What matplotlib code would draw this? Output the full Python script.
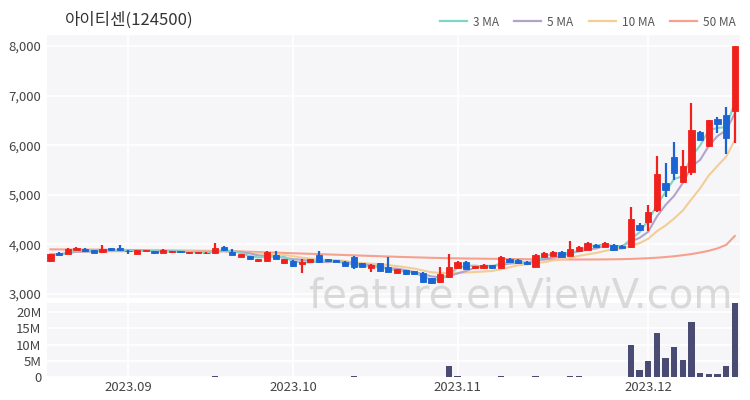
import numpy as np
import pandas as pd
import matplotlib
matplotlib.use("Agg")
import matplotlib.pyplot as plt
from matplotlib.lines import Line2D
from matplotlib.ticker import FuncFormatter

plt.rcParams['font.family'] = ['Noto Sans CJK KR', 'DejaVu Sans']

# trading days (Korean market holidays excluded)
holidays = ['2023-09-28', '2023-09-29', '2023-10-02', '2023-10-03', '2023-10-09']
dates = pd.bdate_range('2023-08-21', '2023-12-15', freq='C', holidays=holidays)

# OHLC
opens = [3665, 3830, 3810, 3895, 3910, 3880, 3840, 3920, 3920, 3870,
         3810, 3870, 3860, 3830, 3840, 3860, 3825, 3820, 3820, 3820,
         3950, 3840, 3750, 3760, 3660, 3660, 3780, 3620, 3670, 3610,
         3650, 3790, 3700, 3680, 3650, 3750, 3620, 3530, 3620, 3550,
         3430, 3480, 3460, 3430, 3320, 3250, 3340, 3530, 3650, 3520,
         3520, 3580, 3530, 3710, 3690, 3650, 3550, 3750, 3770, 3850,
         3770, 3870, 3890, 3990, 3950, 3990, 3970, 3950, 4390, 4450,
         4690, 5240, 5760, 5260, 5460, 6270, 5980, 6530, 6610, 6690]
highs = [3810, 3840, 3920, 3950, 3920, 3890, 3980, 3930, 3980, 3880,
         3890, 3890, 3870, 3910, 3870, 3870, 3850, 3845, 3840, 4030,
         3960, 3900, 3810, 3770, 3710, 3870, 3870, 3710, 3680, 3710,
         3710, 3870, 3710, 3690, 3660, 3760, 3630, 3600, 3630, 3750,
         3510, 3490, 3470, 3440, 3330, 3540, 3800, 3660, 3660, 3570,
         3600, 3590, 3760, 3720, 3700, 3660, 3800, 3840, 3860, 3860,
         4060, 3960, 4040, 4000, 4040, 4000, 3990, 4750, 4440, 4800,
         5780, 5640, 6060, 5900, 6850, 6280, 6510, 6570, 6770, 8000]
lows = [3640, 3780, 3800, 3880, 3850, 3820, 3830, 3860, 3870, 3810,
        3800, 3860, 3810, 3820, 3830, 3830, 3815, 3815, 3810, 3810,
        3870, 3780, 3740, 3680, 3650, 3650, 3700, 3610, 3550, 3430,
        3640, 3630, 3650, 3640, 3560, 3510, 3540, 3450, 3460, 3440,
        3420, 3390, 3390, 3230, 3210, 3230, 3330, 3520, 3500, 3510,
        3510, 3510, 3520, 3640, 3610, 3590, 3540, 3740, 3760, 3740,
        3760, 3860, 3880, 3940, 3940, 3870, 3920, 3920, 4270, 4270,
        4660, 4960, 5300, 5240, 5400, 6100, 5970, 6250, 5820, 6040]
closes = [3800, 3790, 3900, 3920, 3860, 3835, 3900, 3880, 3880, 3860,
          3880, 3885, 3820, 3880, 3860, 3840, 3840, 3840, 3830, 3930,
          3880, 3790, 3800, 3710, 3700, 3840, 3710, 3700, 3560, 3650,
          3700, 3640, 3660, 3650, 3570, 3550, 3550, 3590, 3470, 3450,
          3500, 3400, 3400, 3250, 3230, 3400, 3540, 3650, 3510, 3560,
          3590, 3520, 3750, 3650, 3620, 3600, 3790, 3830, 3850, 3750,
          3910, 3950, 4030, 3950, 4030, 3890, 3930, 4510, 4290, 4650,
          5420, 5100, 5440, 5580, 6300, 6100, 6510, 6430, 6150, 8000]
# volume in millions of shares
volume_m = [0.10, 0.08, 0.12, 0.07, 0.06, 0.05, 0.09, 0.06, 0.07, 0.05,
            0.06, 0.05, 0.05, 0.06, 0.04, 0.04, 0.04, 0.04, 0.05, 0.40,
            0.12, 0.08, 0.07, 0.07, 0.06, 0.10, 0.08, 0.07, 0.08, 0.12,
            0.06, 0.10, 0.06, 0.05, 0.08, 0.25, 0.08, 0.10, 0.09, 0.15,
            0.07, 0.08, 0.06, 0.12, 0.10, 0.15, 3.40, 0.40, 0.15, 0.08,
            0.08, 0.10, 0.20, 0.10, 0.08, 0.07, 0.18, 0.12, 0.10, 0.10,
            0.40, 0.18, 0.15, 0.10, 0.12, 0.10, 0.10, 10.0, 2.1, 4.8,
            13.5, 5.9, 9.3, 5.3, 17.1, 1.1, 1.0, 0.9, 3.3, 22.7]
# 50-day moving average
ma50 = [3900, 3899, 3898, 3897, 3896, 3895, 3894, 3892, 3890, 3888,
        3886, 3884, 3882, 3880, 3878, 3876, 3874, 3872, 3870, 3868,
        3866, 3862, 3858, 3852, 3846, 3840, 3834, 3828, 3822, 3816,
        3810, 3804, 3798, 3792, 3786, 3780, 3774, 3768, 3762, 3756,
        3750, 3745, 3740, 3735, 3730, 3726, 3722, 3719, 3716, 3714,
        3712, 3710, 3708, 3706, 3704, 3702, 3700, 3699, 3698, 3697,
        3696, 3696, 3696, 3697, 3698, 3700, 3703, 3708, 3714, 3722,
        3732, 3745, 3762, 3782, 3806, 3836, 3872, 3920, 3990, 4170]

df = pd.DataFrame({'open': opens, 'high': highs, 'low': lows,
                   'close': closes, 'vol': np.array(volume_m) * 1e6}, index=dates)
df['ma3'] = df['close'].rolling(3, min_periods=1).mean()
df['ma5'] = df['close'].rolling(5, min_periods=1).mean()
df['ma10'] = df['close'].rolling(10, min_periods=1).mean()
df['ma50'] = ma50

up_col = '#f0201c'
down_col = '#1a64d4'
ma_cols = {'3 MA': '#80d6c6', '5 MA': '#b4a3c9', '10 MA': '#f4cc96', '50 MA': '#f6a08e'}
bg = '#f6f6f8'

x = np.arange(len(df))
W, H = 750, 400
fig = plt.figure(figsize=(7.5, 4), dpi=100)
ax = fig.add_axes([47 / W, 1 - 298 / H, 693 / W, 263 / H])
axv = fig.add_axes([47 / W, 1 - 377 / H, 693 / W, 74 / H], sharex=ax)

# month start positions for ticks
month_pos = [i for i in range(1, len(df)) if df.index[i].month != df.index[i - 1].month]
month_lab = [df.index[i].strftime('%Y.%m') for i in month_pos]

for a in (ax, axv):
    a.set_facecolor(bg)
    for s in a.spines.values():
        s.set_visible(False)
    a.grid(True, color='white', lw=1.2)
    a.set_axisbelow(True)
    a.tick_params(length=0, labelsize=9.5, colors='#444444')

# moving averages
ax.plot(x, df['ma50'], color=ma_cols['50 MA'], lw=1.5, zorder=2)
ax.plot(x, df['ma10'], color=ma_cols['10 MA'], lw=1.5, zorder=2)
ax.plot(x, df['ma5'], color=ma_cols['5 MA'], lw=1.5, zorder=2)
ax.plot(x, df['ma3'], color=ma_cols['3 MA'], lw=1.5, zorder=2)

# candles
colors = [up_col if c >= o else down_col for o, c in zip(df['open'], df['close'])]
ax.vlines(x, df['low'], df['high'], colors=colors, lw=1.6, zorder=3)
bottoms = np.minimum(df['open'], df['close'])
heights = np.maximum(np.abs(df['close'] - df['open']), 12)
ax.bar(x, heights, bottom=bottoms, width=0.72, color=colors, edgecolor=colors,
       lw=0.6, zorder=4)

ax.set_ylim(2920, 8220)
ax.set_yticks([3000, 4000, 5000, 6000, 7000, 8000])
ax.yaxis.set_major_formatter(FuncFormatter(lambda v, p: f'{int(v):,}'))
ax.set_xlim(-0.4, len(df) - 0.4)
ax.set_xticks(month_pos)
ax.tick_params(axis='x', labelbottom=False)
ax.tick_params(axis='y', pad=4)

# volume
axv.bar(x, df['vol'], width=0.72, color='#4a4b72', zorder=3)
axv.set_ylim(0, 22.8e6)
axv.set_yticks([0, 5e6, 10e6, 15e6, 20e6])
axv.yaxis.set_major_formatter(FuncFormatter(lambda v, p: '0' if v == 0 else f'{int(v / 1e6)}M'))
axv.set_xticks(month_pos)
axv.set_xticklabels(month_lab)
axv.tick_params(axis='x', pad=3)
axv.tick_params(axis='y', pad=4)

# title, legend, watermark
fig.text(65 / W, 1 - 20 / H, '아이티센(124500)', fontsize=12, color='#333333',
         va='center', ha='left')
handles = [Line2D([0], [0], color=c, lw=1.6) for c in ma_cols.values()]
fig.legend(handles, list(ma_cols.keys()), loc='center right',
           bbox_to_anchor=(0.995, 1 - 22 / H), ncol=4, frameon=False,
           fontsize=8.5, handlelength=2.3, handletextpad=0.5, columnspacing=1.3,
           labelcolor='#555555')
fig.text(520 / W, 1 - 297 / H, 'feature.enViewV.com', fontsize=29, color='#cccccc',
         alpha=0.7, ha='center', va='center', family='DejaVu Sans', zorder=10)

fig.savefig('out.png', dpi=100)
